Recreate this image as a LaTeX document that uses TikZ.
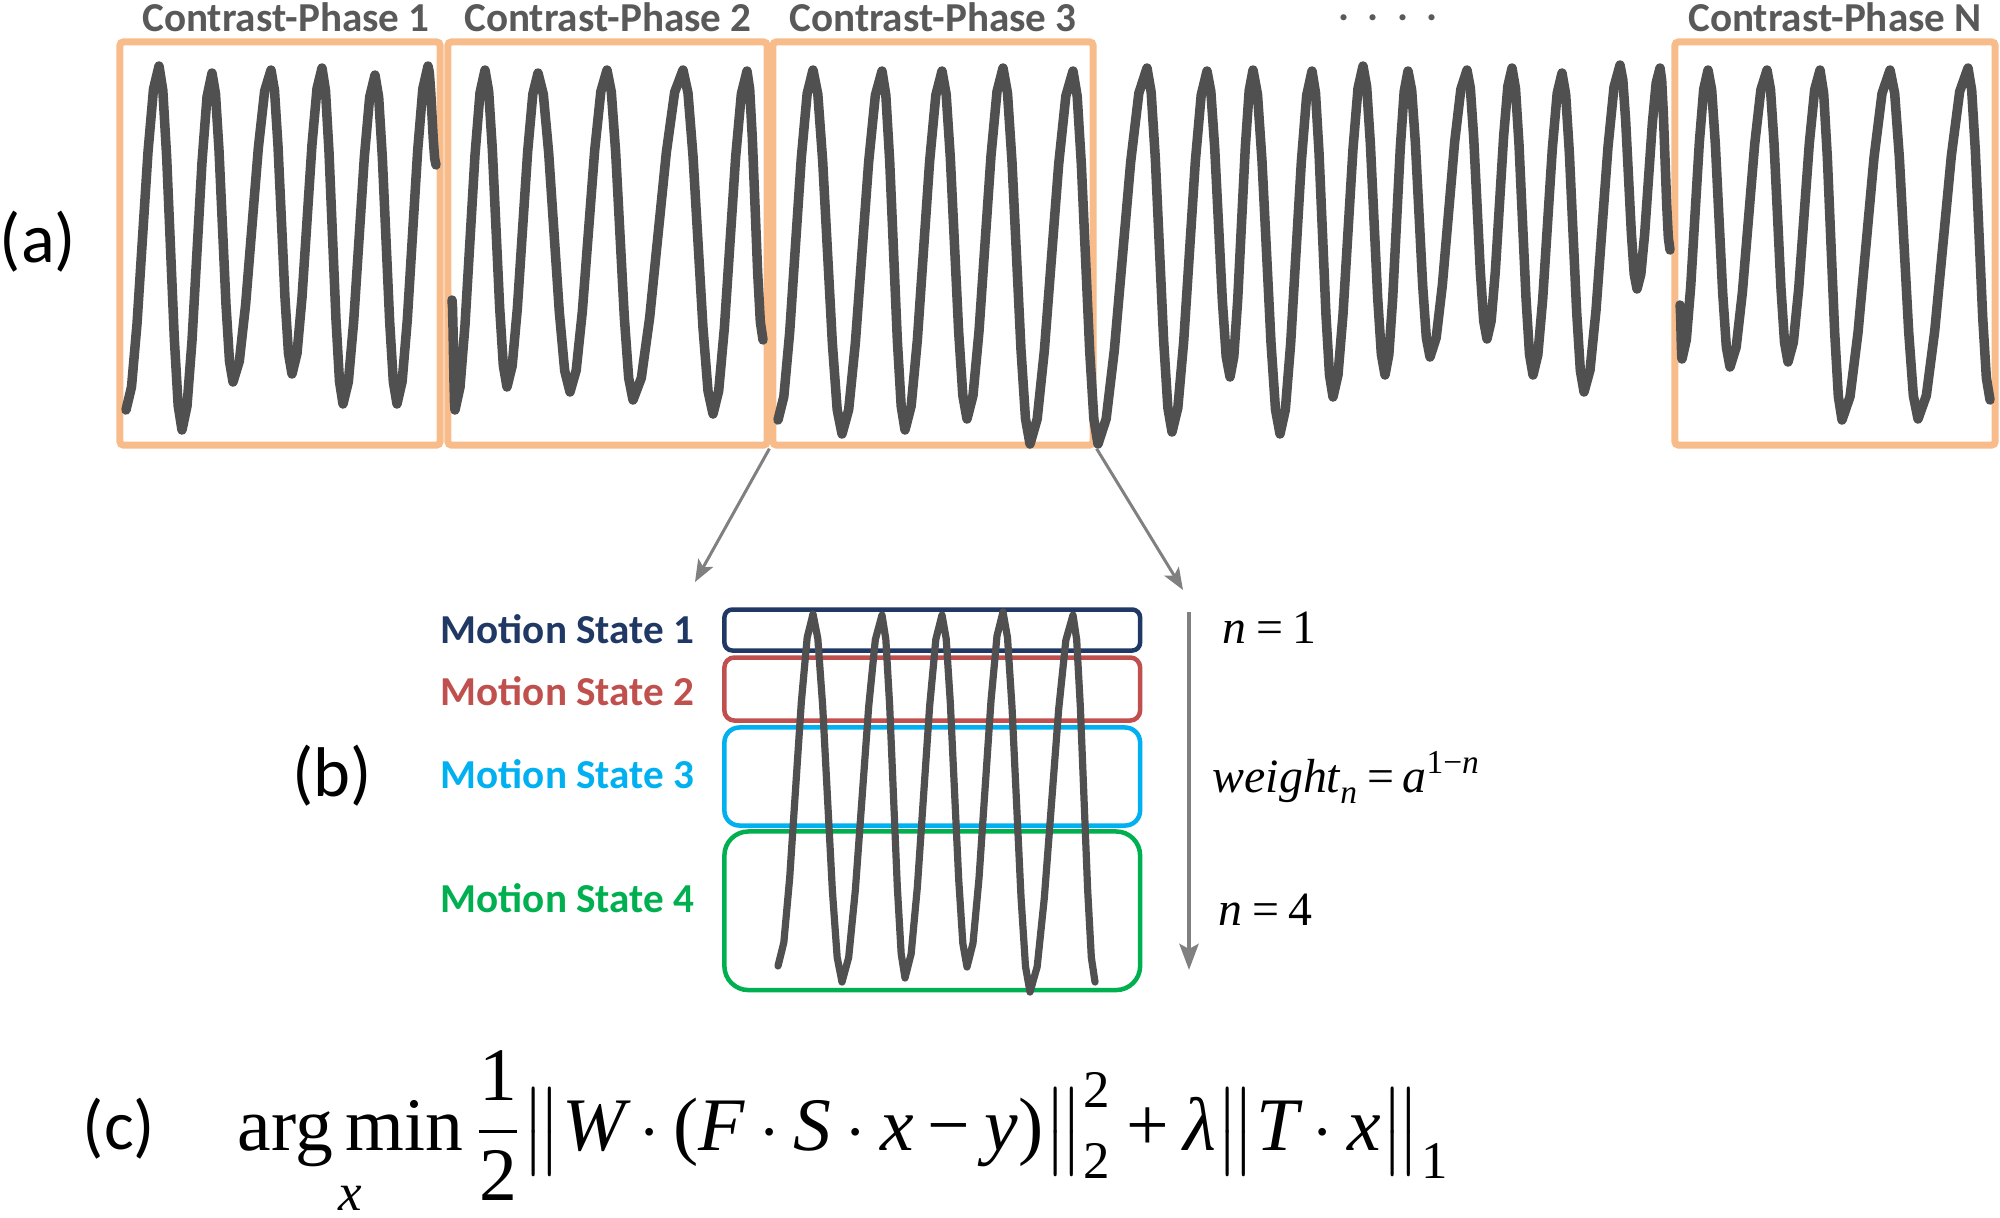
\documentclass[tikz,border=0pt]{standalone}
\usepackage{amsmath}
\usepackage{fontspec}
\usetikzlibrary{arrows.meta}
\newfontfamily\calib{Carlito}
\newfontfamily\tnr{Liberation Serif}
\definecolor{orng}{RGB}{248,188,138}
\definecolor{wavec}{RGB}{80,80,80}
\definecolor{lblgray}{RGB}{89,89,89}
\definecolor{arrgray}{RGB}{128,128,128}
\definecolor{msnavy}{RGB}{31,56,100}
\definecolor{msred}{RGB}{192,80,77}
\definecolor{mscyan}{RGB}{0,176,240}
\definecolor{msgreen}{RGB}{0,176,80}
\newcommand\mi[1]{\text{\tnr\itshape #1}}
\newcommand\mr[1]{\text{\tnr #1}}
\newcommand\wseg[4]{\draw[#4] (#1,#2) \foreach \x/\y [remember=\x as \lx (initially #1), remember=\y as \ly (initially #2)] in {#3} { -- ({\lx+(\x-\lx)/6},{\ly+0.067*(\y-\ly)}) -- ({\lx+(\x-\lx)/3},{\ly+0.25*(\y-\ly)}) -- ({\lx+(\x-\lx)/2},{\ly+0.5*(\y-\ly)}) -- ({\lx+2*(\x-\lx)/3},{\ly+0.75*(\y-\ly)}) -- ({\lx+5*(\x-\lx)/6},{\ly+0.933*(\y-\ly)}) -- (\x,\y) };}
\begin{document}
\begin{tikzpicture}[x=0.01cm, y=-0.01cm,
  obox/.style={draw=orng, line width=0.07cm, rounded corners=1pt, minimum width=3.2cm, minimum height=4.03cm, inner sep=0pt},
  wv/.style={draw=wavec, line width=0.095cm, line join=round, line cap=round},
  wvb/.style={draw=wavec, line width=0.072cm, line join=round, line cap=round},
  phlabel/.style={font=\calib\bfseries\fontsize{11.7}{14}\selectfont, text=lblgray, anchor=base, inner sep=0pt},
  mslabel/.style={font=\calib\bfseries\fontsize{11.7}{14}\selectfont, anchor=base east, inner sep=0pt},
  msbox/.style={line width=0.045cm, minimum width=4.155cm, inner sep=0pt},
  partlabel/.style={font=\calib\fontsize{20}{24}\selectfont, inner sep=0pt},
  eqlabel/.style={font=\tnr\fontsize{13.6}{16}\selectfont, anchor=base west, inner sep=0pt},
  zoomarrow/.style={draw=arrgray, line width=0.03cm, -{Stealth[length=0.22cm,width=0.17cm,inset=0.05cm]}},
  statearrow/.style={draw=arrgray, line width=0.045cm, -{Stealth[length=0.26cm,width=0.19cm,inset=0.05cm]}}]
\useasboundingbox (0,0) rectangle (2000,1217);

% (a) contrast phases
\node[obox] (p1) at (280,243.5) {};
\node[obox, minimum width=3.19cm] (p2) at (607.5,243.5) {};
\node[obox] (p3) at (933,243.5) {};
\node[obox] (pN) at (1835,243.5) {};

\node[phlabel] (l1) at (286,31) {Contrast-Phase 1};
\node[phlabel] (l2) at (608,31) {Contrast-Phase 2};
\node[phlabel] (l3) at (933,31) {Contrast-Phase 3};
\node[phlabel, anchor=center] (ldots) at (1388,18) {.\hspace{0.45em}.\hspace{0.45em}.\hspace{0.45em}.};
\node[phlabel] (lN) at (1835,31) {Contrast-Phase N};

\wseg{126}{410}{159/66, 182/430, 212/73, 233/382, 271/70, 292/374, 322/68, 343/404, 375/75, 397/404, 428/66, 436/165}{wv}
\wseg{452}{300}{455/410, 485/70, 507/387, 538/73, 570/392, 607/70, 633/400, 683/70, 713/414, 747/71, 763/340}{wv}
\wseg{778}{420}{813/70, 842/434, 882/71, 905/430, 942/71, 967/419, 1003/68, 1030/444, 1073/71, 1098/444, 1147/68, 1172/432, 1207/71, 1230/377, 1253/70, 1280/434, 1312/71, 1333/397, 1363/66, 1385/375, 1408/71, 1430/357, 1467/70, 1487/339, 1512/68, 1533/375, 1562/73, 1584/392, 1620/65, 1637/289, 1660/68, 1670/250}{wv}
\wseg{1680}{305}{1682/359, 1708/70, 1730/367, 1767/70, 1788/362, 1820/70, 1842/420, 1890/70, 1918/419, 1968/68, 1990/400}{wv}

\node[partlabel] (la) at (38,242) {(a)};

% zoom arrows
\coordinate (zl) at (695,582);
\coordinate (zr) at (1183,590);
\draw[zoomarrow] (p3.south west) -- (zl);
\draw[zoomarrow] (p3.south east) -- (zr);

% (b) motion states
\node[msbox, draw=msnavy, minimum height=0.41cm, rounded corners=0.08cm] (ms1) at (932.25,630) {};
\node[msbox, draw=msred, minimum height=0.63cm, rounded corners=0.1cm] (ms2) at (932.25,689) {};
\node[msbox, draw=mscyan, minimum height=0.98cm, rounded corners=0.15cm] (ms3) at (932.25,776.5) {};
\node[msbox, draw=msgreen, minimum height=1.585cm, rounded corners=0.24cm] (ms4) at (932.25,910.75) {};

\wseg{778}{420}{813/68, 842/436, 882/69, 905/432, 942/69, 967/421, 1003/66, 1030/446, 1073/69, 1095/436}{wvb, shift={(0,546)}}

\node[mslabel, text=msnavy] (t1) at (695,643) {Motion State 1};
\node[mslabel, text=msred] (t2) at (695,705) {Motion State 2};
\node[mslabel, text=mscyan] (t3) at (695,788) {Motion State 3};
\node[mslabel, text=msgreen] (t4) at (695,912) {Motion State 4};

\node[partlabel] (lb) at (332,776) {(b)};

\coordinate (vs) at (1189,612);
\coordinate (ve) at (1189,970);
\draw[statearrow] (vs) -- (ve);

\node[eqlabel] (n1) at (1222,643) {\mi{n}\hspace{0.2em}=\hspace{0.2em}1};
\node[eqlabel] (wt) at (1212,792) {$\thickmuskip=3mu\mi{weight}_{\mi{n}}\mathrel{\mr{=}}\mi{a}^{\mr{1}\mathbin{\mr{−}}\mi{n}}$};
\node[eqlabel] (n4) at (1218,925) {\mi{n}\hspace{0.2em}=\hspace{0.2em}4};

% (c) formula
\node[partlabel] (lc) at (119,1129) {(c)};
\node[anchor=base west, inner sep=0pt, font=\fontsize{21.5}{26}\selectfont] (formula) at (237,1150) {$\medmuskip=3.5mu\displaystyle\underset{\mi{x}}{\mr{arg\,min}}\,\frac{\mr{1}}{\mr{2}}\bigl\|\mi{W}\cdot\mr{(}\mi{F}\cdot\mi{S}\cdot\mi{x}\mathbin{\mr{−}}\mi{y}\mr{)}\bigr\|_{\mr{2}}^{\mr{2}}\mathbin{\mr{+}}\mi{λ}\bigl\|\mi{T}\cdot\mi{x}\bigr\|_{\mr{1}}$};
\end{tikzpicture}
\end{document}
